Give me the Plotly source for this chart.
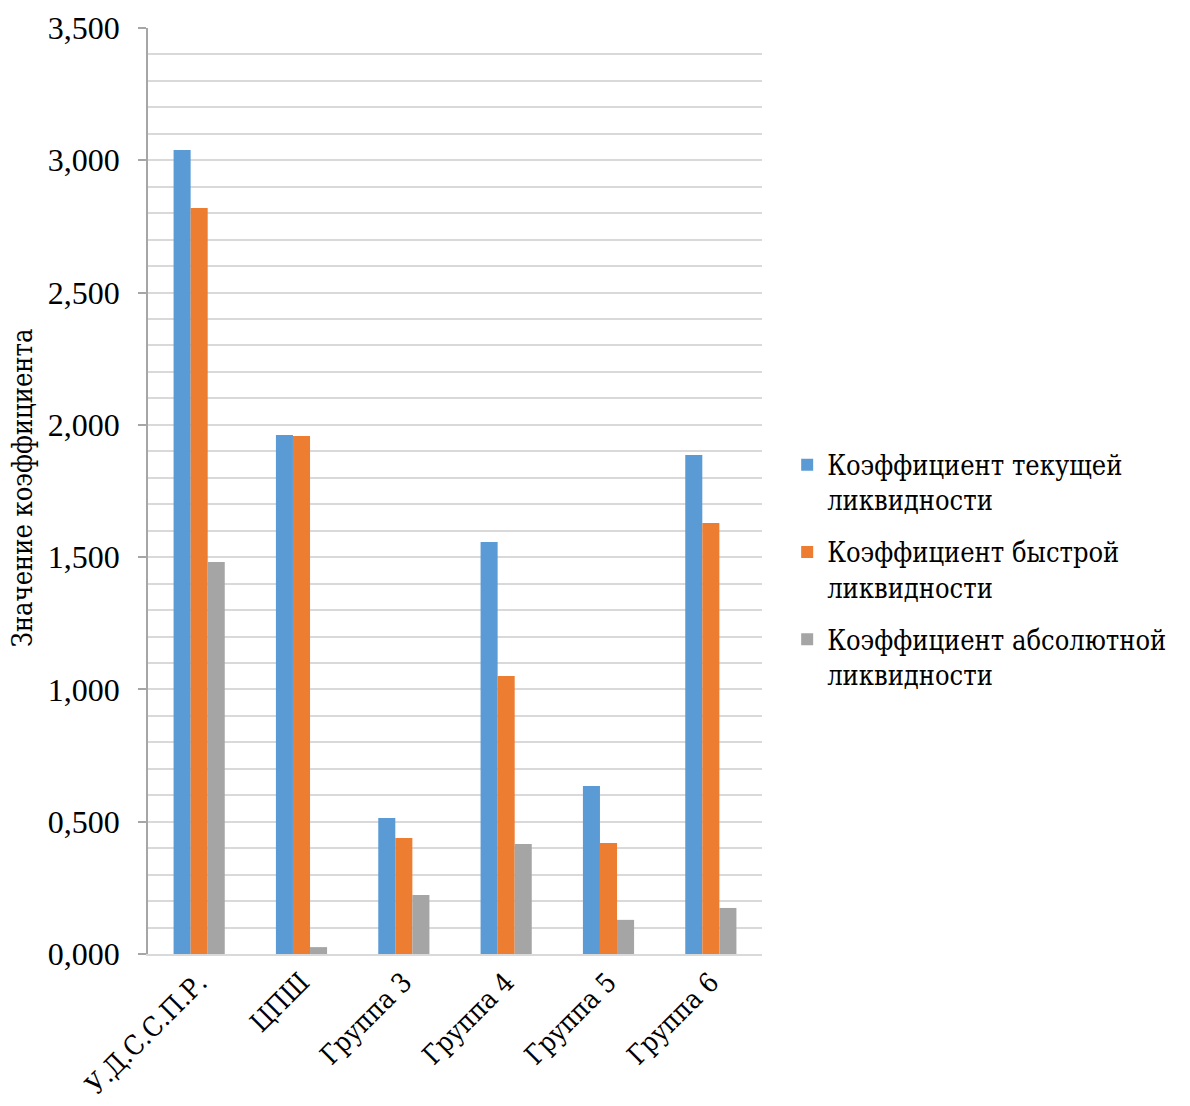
import plotly.graph_objects as go

categories = ["У.Д.С.С.П.Р.", "ЦПШ", "Группа 3", "Группа 4", "Группа 5", "Группа 6"]
current_ratio = [3.039, 1.962, 0.514, 1.557, 0.635, 1.886]
quick_ratio = [2.820, 1.958, 0.438, 1.051, 0.420, 1.629]
absolute_ratio = [1.482, 0.026, 0.223, 0.416, 0.129, 0.174]

series_names = [
    "Коэффициент текущей<br>ликвидности",
    "Коэффициент быстрой<br>ликвидности",
    "Коэффициент абсолютной<br>ликвидности",
]
series_colors = ["#5b9bd5", "#ed7d31", "#a5a5a5"]

NUM_FONT = "Liberation Serif"
CYR_FONT = "DejaVu Serif Condensed, DejaVu Serif"

fig = go.Figure()
for i, (name, vals, col) in enumerate(zip(series_names, [current_ratio, quick_ratio, absolute_ratio], series_colors)):
    fig.add_trace(go.Bar(x=categories, y=vals, name=name, legendgroup=f"g{i}",
                         marker=dict(color=col, line=dict(width=0))))

fig.update_layout(
    width=1190, height=1106,
    margin=dict(l=148, r=428, t=28, b=152, autoexpand=False),
    paper_bgcolor="white", plot_bgcolor="white",
    barmode="group", bargap=0.5, bargroupgap=0,
    separators=",.",
    font=dict(family=NUM_FONT, color="#000000", size=28),
    showlegend=True,
    legend=dict(
        x=1.041, xanchor="left", y=0.415, yanchor="middle",
        font=dict(family=CYR_FONT, size=27, color="#000000"),
        itemwidth=30, tracegroupgap=14, valign="top",
        bgcolor="rgba(0,0,0,0)",
    ),
)

fig.update_yaxes(
    range=[0, 3.5], dtick=0.5, tickformat=".3f",
    showgrid=True, gridcolor="#d9d9d9", gridwidth=1.5,
    minor=dict(dtick=0.1, showgrid=True, gridcolor="#d9d9d9", gridwidth=1.5),
    showline=True, linecolor="#a6a6a6", linewidth=1.5,
    ticks="outside", ticklen=8, tickcolor="#a6a6a6", tickwidth=1.5,
    ticklabelstandoff=12,
    tickfont=dict(family=NUM_FONT, size=32, color="#000000"),
    zeroline=False, fixedrange=True, automargin=False,
)
fig.update_xaxes(
    showline=True, linecolor="#d9d9d9", linewidth=1.5,
    ticks="", tickangle=-45,
    tickfont=dict(family=CYR_FONT, size=27, color="#000000"),
    fixedrange=True, automargin=False,
)

fig.add_annotation(
    text="Значение коэффициента", textangle=-90,
    xref="paper", yref="paper", x=-(148 - 22) / 614, y=0.503,
    xanchor="center", yanchor="middle", showarrow=False,
    font=dict(family=CYR_FONT, size=27, color="#000000"),
)

fig.write_html("out.html")
